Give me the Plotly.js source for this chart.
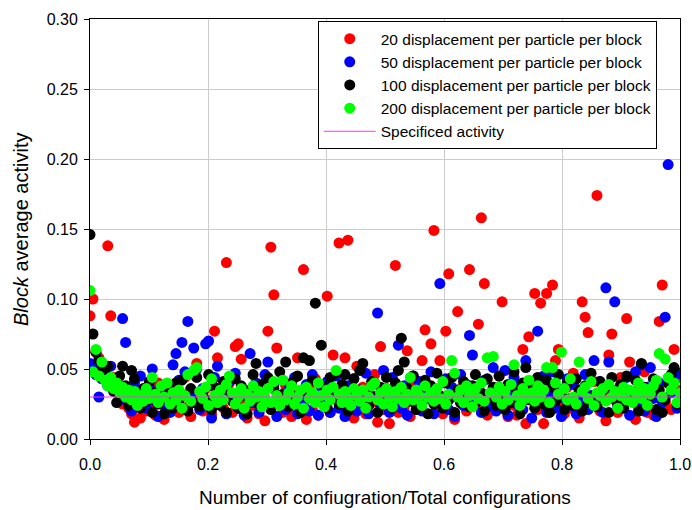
<!DOCTYPE html>
<html>
<head>
<meta charset="utf-8">
<script src="https://cdn.plot.ly/plotly-3.0.1.min.js"></script>
<style>html,body{margin:0;padding:0;background:#fff;}#chart{width:692px;height:510px;}</style>
</head>
<body>
<div id="chart"></div>
<script>
// Block average activity per block, 200 blocks per run (x = block number / total blocks)
const red20 = [
0.088,0.100,0.062,0.058,0.047,0.052,0.138,0.088,0.044,0.040,
0.036,0.025,0.030,0.022,0.018,0.012,0.026,0.015,0.031,0.020,
0.035,0.024,0.017,0.040,0.028,0.014,0.033,0.021,0.038,0.026,
0.019,0.032,0.044,0.023,0.016,0.030,0.054,0.027,0.020,0.036,
0.025,0.018,0.077,0.058,0.031,0.022,0.126,0.040,0.019,0.066,
0.068,0.057,0.028,0.015,0.034,0.024,0.037,0.018,0.029,0.013,
0.077,0.137,0.103,0.065,0.026,0.019,0.038,0.023,0.016,0.033,
0.058,0.027,0.121,0.014,0.036,0.021,0.043,0.017,0.030,0.025,
0.102,0.019,0.060,0.034,0.140,0.022,0.058,0.142,0.028,0.015,
0.052,0.024,0.037,0.018,0.031,0.026,0.046,0.012,0.066,0.021,
0.033,0.011,0.027,0.124,0.019,0.035,0.023,0.063,0.016,0.040,
0.029,0.021,0.056,0.078,0.034,0.068,0.149,0.025,0.056,0.018,
0.077,0.118,0.030,0.014,0.091,0.026,0.038,0.020,0.121,0.033,
0.024,0.082,0.158,0.111,0.017,0.029,0.036,0.022,0.045,0.098,
0.027,0.016,0.032,0.024,0.017,0.035,0.064,0.011,0.073,0.028,
0.104,0.021,0.097,0.011,0.104,0.031,0.110,0.056,0.064,0.025,
0.018,0.037,0.022,0.047,0.030,0.015,0.098,0.087,0.076,0.026,
0.041,0.174,0.020,0.034,0.013,0.060,0.075,0.028,0.019,0.044,
0.023,0.086,0.055,0.031,0.014,0.036,0.024,0.048,0.019,0.029,
0.017,0.033,0.084,0.110,0.026,0.040,0.021,0.064,0.035,0.044
];
const blue50 = [
0.054,0.050,0.046,0.030,0.043,0.048,0.038,0.052,0.035,0.041,
0.028,0.086,0.069,0.033,0.020,0.040,0.026,0.045,0.031,0.022,
0.037,0.050,0.027,0.016,0.034,0.024,0.039,0.019,0.053,0.061,
0.042,0.069,0.048,0.084,0.030,0.065,0.050,0.021,0.036,0.068,
0.070,0.015,0.044,0.052,0.025,0.033,0.018,0.041,0.028,0.047,
0.022,0.036,0.017,0.031,0.061,0.026,0.040,0.019,0.034,0.046,
0.055,0.023,0.038,0.016,0.030,0.042,0.021,0.035,0.027,0.044,
0.018,0.032,0.024,0.039,0.020,0.046,0.029,0.017,0.037,0.025,
0.041,0.019,0.033,0.045,0.022,0.030,0.016,0.038,0.026,0.043,
0.020,0.035,0.028,0.047,0.018,0.031,0.040,0.090,0.024,0.049,
0.036,0.019,0.044,0.027,0.067,0.022,0.038,0.017,0.033,0.045,
0.025,0.041,0.020,0.036,0.029,0.048,0.018,0.032,0.111,0.026,
0.043,0.021,0.037,0.016,0.030,0.046,0.024,0.039,0.074,0.060,
0.027,0.035,0.019,0.042,0.023,0.031,0.051,0.020,0.037,0.028,
0.049,0.017,0.034,0.044,0.025,0.038,0.021,0.056,0.030,0.015,
0.040,0.077,0.026,0.045,0.019,0.033,0.048,0.022,0.036,0.016,
0.029,0.043,0.024,0.039,0.018,0.034,0.027,0.046,0.021,0.031,
0.056,0.025,0.041,0.019,0.108,0.055,0.035,0.098,0.023,0.038,
0.028,0.044,0.017,0.032,0.048,0.024,0.053,0.020,0.037,0.051,
0.029,0.016,0.040,0.026,0.087,0.196,0.033,0.045,0.022,0.047
];
const black100 = [
0.146,0.075,0.062,0.056,0.050,0.045,0.052,0.040,0.034,0.026,
0.045,0.052,0.038,0.024,0.049,0.043,0.030,0.022,0.036,0.027,
0.041,0.019,0.033,0.025,0.038,0.018,0.029,0.035,0.022,0.040,
0.027,0.042,0.031,0.020,0.036,0.026,0.044,0.023,0.033,0.028,
0.046,0.021,0.037,0.030,0.024,0.041,0.019,0.034,0.027,0.043,
0.022,0.038,0.031,0.018,0.035,0.046,0.054,0.025,0.039,0.029,
0.044,0.021,0.036,0.027,0.048,0.032,0.055,0.023,0.040,0.030,
0.045,0.019,0.058,0.034,0.056,0.042,0.097,0.028,0.067,0.037,
0.022,0.044,0.031,0.047,0.025,0.039,0.046,0.020,0.035,0.043,
0.028,0.049,0.054,0.033,0.024,0.041,0.030,0.019,0.037,0.026,
0.044,0.032,0.022,0.040,0.049,0.072,0.055,0.036,0.027,0.045,
0.021,0.034,0.029,0.042,0.018,0.038,0.025,0.047,0.031,0.022,
0.040,0.028,0.044,0.019,0.035,0.026,0.041,0.030,0.023,0.038,
0.046,0.027,0.033,0.020,0.043,0.029,0.037,0.024,0.045,0.032,
0.021,0.039,0.026,0.048,0.034,0.018,0.040,0.051,0.028,0.036,
0.022,0.044,0.030,0.025,0.042,0.019,0.037,0.027,0.046,0.033,
0.021,0.040,0.029,0.024,0.043,0.035,0.020,0.038,0.026,0.047,
0.031,0.023,0.041,0.028,0.036,0.019,0.044,0.030,0.025,0.039,
0.022,0.045,0.033,0.027,0.042,0.020,0.054,0.037,0.024,0.031,
0.043,0.021,0.035,0.019,0.028,0.040,0.046,0.051,0.025,0.033
];
const green200 = [
0.106,0.048,0.064,0.045,0.055,0.042,0.038,0.044,0.036,0.040,
0.033,0.037,0.030,0.035,0.028,0.034,0.024,0.031,0.027,0.036,
0.029,0.044,0.032,0.026,0.038,0.030,0.040,0.025,0.033,0.028,
0.035,0.022,0.031,0.046,0.027,0.049,0.051,0.034,0.029,0.037,
0.024,0.043,0.031,0.026,0.035,0.028,0.039,0.045,0.033,0.025,
0.030,0.036,0.022,0.032,0.027,0.038,0.030,0.034,0.023,0.029,
0.036,0.026,0.041,0.031,0.024,0.042,0.028,0.033,0.038,0.025,
0.030,0.035,0.022,0.037,0.029,0.033,0.026,0.040,0.031,0.023,
0.035,0.028,0.037,0.049,0.032,0.026,0.034,0.029,0.024,0.036,
0.031,0.027,0.035,0.022,0.030,0.038,0.040,0.028,0.033,0.025,
0.036,0.030,0.023,0.034,0.029,0.037,0.026,0.032,0.044,0.028,
0.035,0.031,0.024,0.038,0.030,0.033,0.027,0.036,0.029,0.041,
0.025,0.032,0.056,0.047,0.030,0.035,0.026,0.038,0.031,0.023,
0.036,0.029,0.040,0.027,0.058,0.033,0.059,0.030,0.037,0.025,
0.034,0.028,0.039,0.053,0.031,0.024,0.036,0.029,0.042,0.033,
0.027,0.038,0.030,0.035,0.051,0.026,0.051,0.040,0.032,0.062,
0.036,0.028,0.043,0.030,0.025,0.055,0.034,0.037,0.029,0.041,
0.024,0.033,0.031,0.036,0.027,0.039,0.030,0.034,0.022,0.031,
0.037,0.028,0.035,0.026,0.033,0.040,0.029,0.036,0.024,0.032,
0.038,0.042,0.061,0.030,0.057,0.044,0.035,0.040,0.026,0.033
];
const specX = [0, 1];
const specY = [0.03, 0.03];
const seriesNames = [
  "20 displacement per particle per block",
  "50 displacement per particle per block",
  "100 displacement per particle per block",
  "200 displacement per particle per block",
  "Specificed activity"
];
const yTickVals = [0, 0.05, 0.10, 0.15, 0.20, 0.25, 0.30];
const xTickVals = [0, 0.2, 0.4, 0.6, 0.8, 1.0];

function fractions(arr) { return arr.map((_, i) => i / (arr.length - 1)); }

const FONT = "Liberation Sans, Arial, sans-serif";
function mk(y, name, color) {
  return { x: fractions(y), y: y, name: name, type: "scatter", mode: "markers",
    marker: { color: color, size: 11, line: { width: 0 } } };
}
const traces = [
  mk(red20, seriesNames[0], "#ff0000"),
  mk(blue50, seriesNames[1], "#0000ff"),
  mk(black100, seriesNames[2], "#000000"),
  mk(green200, seriesNames[3], "#00ff00"),
  { x: specX, y: specY, name: seriesNames[4], type: "scatter", mode: "lines",
    line: { color: "#ff33ff", width: 1 } }
];
const layout = {
  width: 692, height: 510,
  margin: { l: 90, r: 12, t: 19, b: 71 },
  paper_bgcolor: "#ffffff", plot_bgcolor: "#ffffff",
  font: { family: FONT, size: 16, color: "#000" },
  showlegend: true,
  legend: { x: 0.386, xanchor: "left", y: 0.995, yanchor: "top",
    bgcolor: "#ffffff", bordercolor: "#000", borderwidth: 1, itemwidth: 52,
    font: { family: FONT, size: 15.5, color: "#000" } },
  xaxis: {
    range: [0, 1], tickvals: xTickVals, tickformat: ".1f",
    showline: true, mirror: true, linecolor: "#000", linewidth: 1,
    showgrid: true, gridcolor: "#cccccc", gridwidth: 1, zeroline: false,
    ticks: "outside", ticklen: 5, tickcolor: "#000", ticklabelstandoff: 6,
    tickfont: { family: FONT, size: 16 },
    title: { text: "Number of confiugration/Total configurations", font: { family: FONT, size: 19 }, standoff: 18 }
  },
  yaxis: {
    range: [0, 0.30], tickvals: yTickVals, tickformat: ".2f",
    showline: true, mirror: true, linecolor: "#000", linewidth: 1,
    showgrid: true, gridcolor: "#cccccc", gridwidth: 1, zeroline: false,
    ticks: "outside", ticklen: 5, tickcolor: "#000", ticklabelstandoff: 3,
    tickfont: { family: FONT, size: 16 }
  },
  annotations: [{
    text: "<i>Block</i> average activity", xref: "paper", yref: "paper",
    x: -0.117, y: 0.5, xanchor: "center", yanchor: "middle", textangle: -90,
    showarrow: false, font: { family: FONT, size: 20, color: "#000" }
  }]
};
Plotly.newPlot("chart", traces, layout, { displayModeBar: false, staticPlot: true });
</script>
</body>
</html>
